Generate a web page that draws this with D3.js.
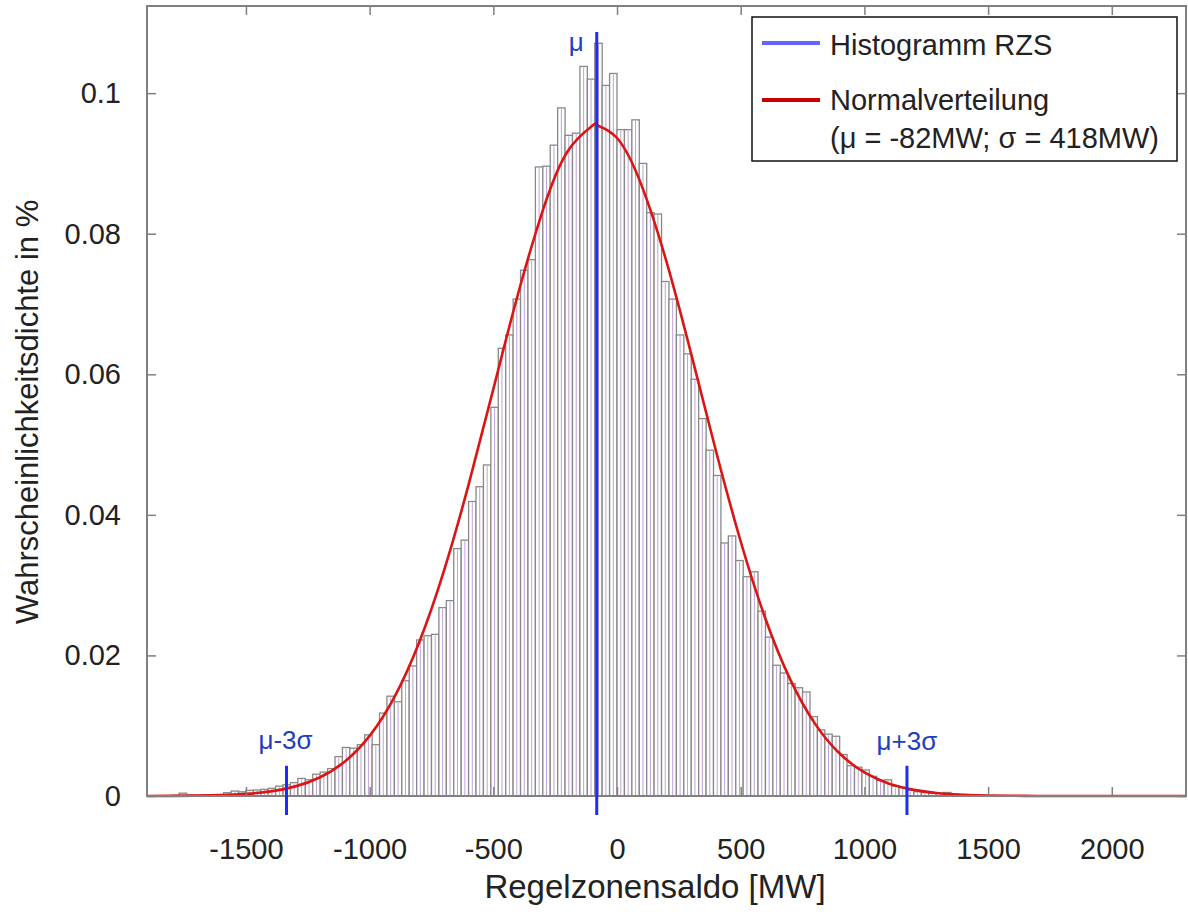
<!DOCTYPE html>
<html lang="de">
<head>
<meta charset="UTF-8">
<title>Regelzonensaldo – Histogramm</title>
<script src="https://d3js.org/d3.v7.min.js"></script>
<style>
  body { margin: 0; background: #fff; }
  svg text { font-family: "Liberation Sans", Arial, sans-serif; fill: #222; }
</style>
</head>
<body>
<div id="chart"></div>
<script>
// histogram bins (left edge in MW, 30 MW wide) and density in %
const binWidth = 30;
const binLeft = [
  -1830, -1800, -1770, -1740, -1710, -1680, -1650, -1620, -1590, -1560,
  -1530, -1500, -1470, -1440, -1410, -1380, -1350, -1320, -1290, -1260,
  -1230, -1200, -1170, -1140, -1110, -1080, -1050, -1020, -990, -960,
  -930, -900, -870, -840, -810, -780, -750, -720, -690, -660,
  -630, -600, -570, -540, -510, -480, -450, -420, -390, -360,
  -330, -300, -270, -240, -210, -180, -150, -120, -90, -60,
  -30, 0, 30, 60, 90, 120, 150, 180, 210, 240,
  270, 300, 330, 360, 390, 420, 450, 480, 510, 540,
  570, 600, 630, 660, 690, 720, 750, 780, 810, 840,
  870, 900, 930, 960, 990, 1020, 1050, 1080, 1110, 1140,
  1170, 1200, 1230, 1260, 1290, 1320, 1350, 1380, 1410, 1440,
  1470, 1500
];
const binValue = [
  0.00005, 0.0001, 0.0004, 0.00015, 0.0001, 0.0001, 0.0001, 0.0002, 0.00047, 0.0007,
  0.0006, 0.0008, 0.00085, 0.00095, 0.0011, 0.0014, 0.0016, 0.0019, 0.0025, 0.0023,
  0.0031, 0.0034, 0.0039, 0.0056, 0.0069, 0.0068, 0.0073, 0.0087, 0.0073, 0.0118,
  0.0142, 0.0134, 0.0164, 0.0185, 0.0222, 0.0228, 0.0230, 0.0268, 0.0278, 0.0352,
  0.0364, 0.0419, 0.0440, 0.0471, 0.0553, 0.0637, 0.0656, 0.0707, 0.0748, 0.0763,
  0.0895, 0.0896, 0.0926, 0.0979, 0.0940, 0.0943, 0.1038, 0.1020, 0.1071, 0.1011,
  0.1028, 0.0948, 0.0948, 0.0962, 0.0900, 0.0830, 0.0828, 0.0732, 0.0707, 0.0656,
  0.0629, 0.0593, 0.0537, 0.0492, 0.0456, 0.0360, 0.0370, 0.0335, 0.0312, 0.0319,
  0.0263, 0.0226, 0.0186, 0.0175, 0.0160, 0.0154, 0.0148, 0.0113, 0.0094, 0.0088,
  0.0085, 0.0059, 0.0043, 0.0041, 0.0037, 0.0028, 0.0022, 0.0023, 0.0014, 0.0012,
  0.0008, 0.0006, 0.0005, 0.0004, 0.0004, 0.0005, 0.0003, 0.0002, 0.00015, 0.0001,
  0.0001, 0.00005
];

// normal distribution curve
const curveX = [
  -1900, -1800, -1700, -1600, -1500, -1400, -1300, -1200, -1100, -1000,
  -900, -800, -700, -600, -500, -400, -300, -200, -100, -82,
  0, 100, 200, 300, 400, 500, 600, 700, 800, 900,
  1000, 1100, 1200, 1300, 1400, 1500, 1600, 1700, 1800, 1900,
  2000, 2100, 2200, 2300
];
const curveY = [
  0.00001, 0.00002, 0.00005, 0.00013, 0.0003, 0.00066, 0.00137, 0.00267, 0.00492, 0.00856,
  0.01406, 0.02183, 0.03199, 0.04429, 0.05789, 0.07146, 0.08331, 0.09171, 0.09535, 0.09544,
  0.09362, 0.08681, 0.07602, 0.06286, 0.04909, 0.03621, 0.02522, 0.01659, 0.01030, 0.00604,
  0.00335, 0.00175, 0.00087, 0.0004, 0.00018, 0.00007, 0.00003, 0.00001, 0, 0,
  0, 0, 0, 0
];

const markerLabel = ['μ', 'μ-3σ', 'μ+3σ'];
const markerValue = [-82, -1336, 1172];

const xTicks = [-1500, -1000, -500, 0, 500, 1000, 1500, 2000];
const yTicks = [0, 0.02, 0.04, 0.06, 0.08, 0.1];
const yTickLabels = ['0', '0.02', '0.04', '0.06', '0.08', '0.1'];

const legendLabels = ['Histogramm RZS', 'Normalverteilung', '(μ = -82MW; σ = 418MW)'];

const width = 1188, height = 918;
const plot = { left: 147, right: 1186, top: 6, bottom: 796 };

const svg = d3.select('#chart').append('svg')
  .attr('width', width)
  .attr('height', height);

const x = d3.scaleLinear().domain([-1900, 2300]).range([plot.left, plot.right]);
const y = d3.scaleLinear().domain([0, 0.1124]).range([plot.bottom, plot.top]);

// bars
const bins = binLeft.map((l, i) => ({ l: l, v: binValue[i] }));
const barG = svg.append('g');
barG.selectAll('rect')
  .data(bins)
  .enter().append('rect')
  .attr('x', d => x(d.l))
  .attr('y', d => y(d.v))
  .attr('width', d => x(d.l + binWidth) - x(d.l))
  .attr('height', d => y(0) - y(d.v))
  .attr('fill', '#fff')
  .attr('stroke', '#888')
  .attr('stroke-width', 1.3);

// the faint purple inner edge of every bar
barG.selectAll('line')
  .data(bins.filter(d => y(0) - y(d.v) > 2))
  .enter().append('line')
  .attr('x1', d => x(d.l + binWidth / 2))
  .attr('x2', d => x(d.l + binWidth / 2))
  .attr('y1', d => y(d.v) + 1)
  .attr('y2', y(0))
  .attr('stroke', '#b08ad6')
  .attr('stroke-width', 1)
  .attr('stroke-opacity', 0.8);

// red normal curve
const curvePts = curveX.map((v, i) => [v, curveY[i]]);
svg.append('path')
  .datum(curvePts)
  .attr('fill', 'none')
  .attr('stroke', '#dc1414')
  .attr('stroke-width', 2.6)
  .attr('d', d3.line()
    .x(d => x(d[0]))
    .y(d => y(d[1]))
    .curve(d3.curveNatural));

// box + ticks (MATLAB style, ticks inside)
svg.append('rect')
  .attr('x', plot.left).attr('y', plot.top)
  .attr('width', plot.right - plot.left)
  .attr('height', plot.bottom - plot.top)
  .attr('fill', 'none')
  .attr('stroke', '#808080')
  .attr('stroke-width', 2);

function styleAxis(g) {
  g.select('.domain').remove();
  g.selectAll('.tick line').attr('stroke', '#808080').attr('stroke-width', 1.5);
  g.selectAll('.tick text').attr('font-size', 29).attr('fill', '#262626');
}

svg.append('g')
  .attr('transform', `translate(0,${plot.bottom})`)
  .call(d3.axisBottom(x).tickValues(xTicks).tickSize(-9).tickPadding(42).tickFormat(d => String(d)))
  .call(styleAxis);

svg.append('g')
  .attr('transform', `translate(0,${plot.top})`)
  .call(d3.axisTop(x).tickValues(xTicks).tickSize(-9).tickFormat(''))
  .call(styleAxis);

svg.append('g')
  .attr('transform', `translate(${plot.left},0)`)
  .call(d3.axisLeft(y).tickValues(yTicks).tickSize(-9).tickPadding(26).tickFormat((d, i) => yTickLabels[i]))
  .call(styleAxis);

svg.append('g')
  .attr('transform', `translate(${plot.right},0)`)
  .call(d3.axisRight(y).tickValues(yTicks).tickSize(-9).tickFormat(''))
  .call(styleAxis);

// mu and mu +/- 3 sigma markers
const markerTop = [0.1087, 0.0043, 0.0043];
markerValue.forEach((v, i) => {
  svg.append('line')
    .attr('x1', x(v)).attr('x2', x(v))
    .attr('y1', y(markerTop[i]))
    .attr('y2', plot.bottom + 19)
    .attr('stroke', '#1a2cff')
    .attr('stroke-width', 3);
});
svg.append('text')
  .attr('x', x(markerValue[0]) - 13).attr('y', 51)
  .attr('text-anchor', 'end')
  .attr('font-size', 26)
  .style('fill', '#2040c0')
  .text(markerLabel[0]);
svg.append('text')
  .attr('x', x(markerValue[1]) - 1).attr('y', 749)
  .attr('text-anchor', 'middle')
  .attr('font-size', 26)
  .style('fill', '#2040c0')
  .text(markerLabel[1]);
svg.append('text')
  .attr('x', x(markerValue[2])).attr('y', 750)
  .attr('text-anchor', 'middle')
  .attr('font-size', 26)
  .style('fill', '#2040c0')
  .text(markerLabel[2]);

// legend
const lg = svg.append('g');
lg.append('rect')
  .attr('x', 752).attr('y', 17)
  .attr('width', 425).attr('height', 144)
  .attr('fill', '#fff')
  .attr('stroke', '#111')
  .attr('stroke-width', 1.5);
lg.append('line')
  .attr('x1', 762).attr('x2', 820).attr('y1', 43).attr('y2', 43)
  .attr('stroke', '#6464ff').attr('stroke-width', 4);
lg.append('line')
  .attr('x1', 762).attr('x2', 820).attr('y1', 100).attr('y2', 100)
  .attr('stroke', '#cc0000').attr('stroke-width', 4);
lg.selectAll('text')
  .data(legendLabels)
  .enter().append('text')
  .attr('x', 830)
  .attr('y', (d, i) => [55, 110, 148][i])
  .attr('font-size', 29)
  .text(d => d);

// axis titles
svg.append('text')
  .attr('x', 655).attr('y', 898)
  .attr('text-anchor', 'middle')
  .attr('font-size', 33)
  .text('Regelzonensaldo [MW]');

svg.append('text')
  .attr('transform', 'translate(38,412) rotate(-90)')
  .attr('text-anchor', 'middle')
  .attr('font-size', 31)
  .text('Wahrscheinlichkeitsdichte in %');
</script>
</body>
</html>
